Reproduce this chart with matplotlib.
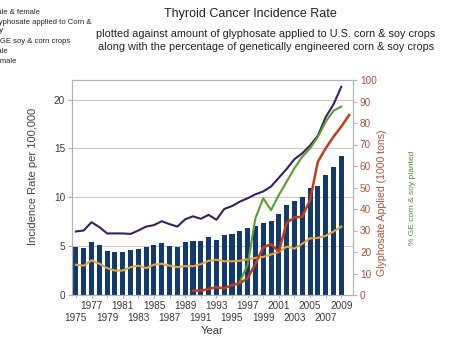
import numpy as np
import matplotlib
matplotlib.use("Agg")
import matplotlib.pyplot as plt

plt.rcParams['font.family'] = ['Liberation Sans', 'DejaVu Sans']

years = list(range(1975, 2011))

# male & female incidence (bars), 1975-2009
both = [4.9, 4.85, 5.45, 5.1, 4.5, 4.35, 4.4, 4.65, 4.75, 4.9,
        5.1, 5.3, 5.05, 4.95, 5.4, 5.5, 5.5, 5.9, 5.65, 6.1,
        6.2, 6.5, 6.85, 7.05, 7.35, 7.6, 8.25, 9.2, 9.6, 10.05,
        10.9, 11.2, 12.25, 13.05, 14.2]
female = [6.5, 6.6, 7.45, 6.95, 6.3, 6.3, 6.3, 6.25, 6.6, 7.0,
          7.15, 7.55, 7.25, 7.0, 7.75, 8.05, 7.8, 8.2, 7.7, 8.8,
          9.1, 9.55, 9.9, 10.3, 10.6, 11.1, 12.0, 12.9, 13.9, 14.5,
          15.3, 16.3, 18.2, 19.5, 21.3]
male = [3.1, 3.0, 3.55, 3.2, 2.75, 2.5, 2.5, 2.85, 3.0, 2.75,
        3.1, 3.2, 3.0, 2.85, 2.95, 2.95, 3.15, 3.5, 3.6, 3.45,
        3.45, 3.5, 3.65, 3.8, 3.9, 4.15, 4.4, 4.95, 4.75, 5.25,
        5.8, 5.85, 6.05, 6.5, 7.0]
# glyphosate 1990-2010, % GE 1996-2009
glyph_years = list(range(1990, 2011))
glyph = [2.0, 2.0, 2.8, 3.6, 3.1, 4.6, 5.4, 7.8, 14.5, 22.2, 23.6,
         20.2, 33.6, 36.1, 36.4, 44.2, 62.0, 68.2, 73.6, 78.3, 83.7]
ge_years = list(range(1996, 2010))
ge = [6.2, 14.0, 35.7, 45.0, 39.5, 46.5, 52.7, 59.0, 64.3, 68.2,
      73.6, 80.6, 85.7, 87.6]

upper_years = [1977, 1981, 1985, 1989, 1993, 1997, 2001, 2005, 2009]
lower_years = [1975, 1979, 1983, 1987, 1991, 1995, 1999, 2003, 2007]

legend_lines = ["Male & female", "Glyphosate applied to Corn &", "Soy",
                "% GE soy & corn crops", "Male", "Female"]
legend_y = [12, 22.5, 31, 41.5, 51.5, 61.5]

grey = '#b3b3b3'
brown = '#b0523a'
dark = '#3a3a3a'

fig = plt.figure(figsize=(4.5, 3.5), dpi=100)
ax = fig.add_axes([72/450, 1-295/350, (353-72)/450, (295-80)/350])
ax2 = ax.twinx()

idx = lambda ys: [years.index(y) for y in ys]

ax.bar(range(len(both)), both, width=0.65, color='#123b6b', zorder=2)
ax.plot(range(len(female)), female, color='#3b1f5e', lw=1.5, zorder=3)
ax.plot(range(len(male)), male, color='#e8a33c', lw=1.5, zorder=3)
ax2.plot(idx(glyph_years), glyph, color='#c03c1c', lw=1.8)
ax2.plot(idx(ge_years), ge, color='#5a9e2e', lw=1.5)

ax.set_xlim(-0.5, len(years) - 0.5)
ax.set_ylim(0, 22)
ax2.set_ylim(0, 100)
ax.set_yticks([0, 5, 10, 15, 20])
ax2.set_yticks(range(0, 101, 10))
ax.yaxis.grid(True, color='#c8c8c8', lw=0.8, zorder=0)
ax.set_axisbelow(True)

# staggered year labels: upper row as major ticks, lower row as minor ticks
ax.set_xticks(idx(upper_years))
ax.set_xticklabels([str(y) for y in upper_years])
ax.set_xticks(idx(lower_years), minor=True)
ax.set_xticklabels([str(y) for y in lower_years], minor=True)
ax.tick_params(axis='x', which='major', length=2, color=grey, pad=2,
               labelsize=7.2, labelcolor=dark)
ax.tick_params(axis='x', which='minor', length=2, color=grey, pad=11,
               labelsize=7.2, labelcolor=dark)
ax.tick_params(axis='y', length=3, color=grey, labelsize=7.2,
               labelcolor=dark, pad=2)
ax2.tick_params(axis='y', length=3, color=grey, labelsize=7.2,
                labelcolor=brown, pad=2)

for a in (ax, ax2):
    for s in a.spines.values():
        s.set_color(grey)
        s.set_linewidth(0.8)

ax.set_xlabel('Year', fontsize=8, color=dark, labelpad=2)
fig.text(33/450, 1-176/350, 'Incidence Rate per 100,000', rotation=90,
         fontsize=8, color='#444444', ha='center', va='center')
fig.text(382/450, 1-203/350, 'Glyphosate Applied (1000 tons)', rotation=90,
         fontsize=7.6, color=brown, ha='center', va='center')
fig.text(413/450, 1-198/350, '% GE corn & soy planted', rotation=90,
         fontsize=6, color='#4e8f35', ha='center', va='center')

fig.text(250/450, 1-14/350, 'Thyroid Cancer Incidence Rate', fontsize=9,
         ha='center', va='center', color='#222222')
fig.text(266/450, 1-34/350,
         'plotted against amount of glyphosate applied to U.S. corn & soy crops',
         fontsize=7.8, ha='center', va='center', color='#222222')
fig.text(266/450, 1-47/350,
         'along with the percentage of genetically engineered corn & soy crops',
         fontsize=7.8, ha='center', va='center', color='#222222')

# legend sits mostly off the left edge in the original
for txt, y in zip(legend_lines, legend_y):
    fig.text(-9/450, 1-y/350, txt, fontsize=5.5, ha='left', va='center',
             color='#222222')

fig.savefig('out.png', dpi=100)
